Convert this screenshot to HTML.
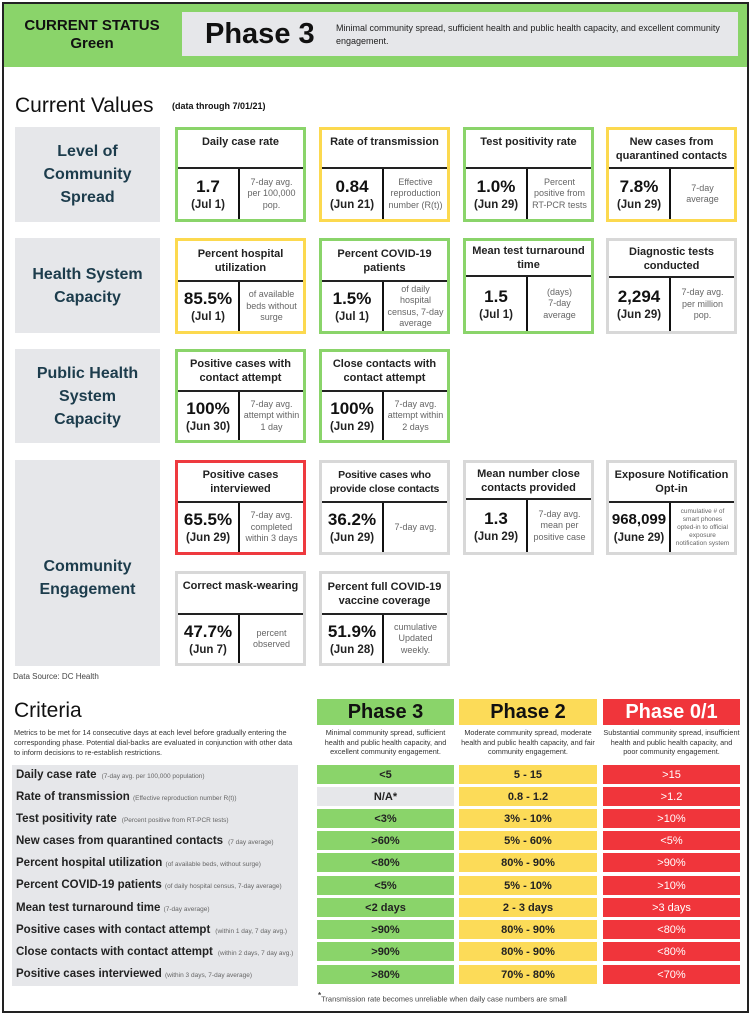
<!DOCTYPE html>
<html><head><meta charset="utf-8"><style>
*{margin:0;padding:0;box-sizing:border-box}
body{width:751px;height:1024px;background:#fff;font-family:"Liberation Sans",sans-serif;color:#111;position:relative;overflow:hidden}
.a{position:absolute}
.frame{left:2px;top:2px;width:747px;height:1011px;border:2px solid #222}
.hdr{left:4px;top:4px;width:743px;height:63px;background:#8ad46a}
.cat{background:#e6e7ea;color:#1c3c4c;font-weight:bold;font-size:16px;line-height:23px;display:flex;align-items:center;justify-content:center;text-align:center;left:15px;width:145px}
.card{width:131px;border:3px solid;background:#fff}
.card .t{display:flex;align-items:center;justify-content:center;text-align:center;font-size:11px;font-weight:bold;line-height:14px;border-bottom:2px solid;padding:0 2px;color:#222}
.card .b{display:flex}
.card .l{width:62px;border-right:2px solid;display:flex;flex-direction:column;align-items:center;justify-content:center;text-align:center}
.card .v{font-size:17px;font-weight:bold;line-height:21px}
.card .d{font-size:11.5px;font-weight:bold;line-height:16px;color:#222}
.card .r{flex:1;display:flex;align-items:center;justify-content:center;text-align:center;font-size:9px;color:#666;line-height:11.5px;padding:0 3px}
.G{border-color:#8ad46a}.Y{border-color:#fcd94f}.R{border-color:#ee3a3f}.N{border-color:#d8d8d8}
.G *{border-color:#8ad46a}.Y *{border-color:#fcd94f}.R *{border-color:#ee3a3f}.N *{border-color:#d8d8d8}
.cell{height:19px;display:flex;align-items:center;justify-content:center;font-size:11px;font-weight:bold}
.c1{left:317px;width:137px;background:#8ad46a;color:#222}
.c2{left:459px;width:138px;background:#fcdb58;color:#222}
.c3{left:603px;width:137px;background:#f0353b;color:#fff;font-weight:normal}
.lab{left:16px;font-size:11.5px;font-weight:bold;color:#222;height:20px;line-height:20px;white-space:nowrap}
.lab span{font-size:6.5px;font-weight:normal;color:#666}
.pd{font-size:7.3px;color:#333;text-align:center;line-height:9.5px;top:728px}
.ph{top:699px;height:26px;text-align:center;font-size:20px;font-weight:bold;line-height:26px}
</style></head><body>
<div class="a hdr"></div>
<div class="a frame"></div>
<div class="a" style="left:12px;top:17px;width:160px;text-align:center;font-weight:bold;font-size:15px;line-height:18px">CURRENT STATUS<br>Green</div>
<div class="a" style="left:182px;top:12px;width:556px;height:44px;background:#e6e7ea"></div>
<div class="a" style="left:205px;top:16px;font-size:29px;font-weight:bold;line-height:36px">Phase 3</div>
<div class="a" style="left:336px;top:22px;font-size:9px;line-height:13px;color:#222;width:400px">Minimal community spread, sufficient health and public health capacity, and excellent community engagement.</div>

<div class="a" style="left:15px;top:94px;font-size:21px;line-height:24px">Current Values</div>
<div class="a" style="left:172px;top:101px;font-size:9px;font-weight:bold">(data through 7/01/21)</div>

<div class="a cat" style="top:127px;height:95px">Level of<br>Community<br>Spread</div>
<div class="a cat" style="top:238px;height:95px">Health System<br>Capacity</div>
<div class="a cat" style="top:349px;height:94px">Public Health<br>System<br>Capacity</div>
<div class="a cat" style="top:460px;height:206px;padding-top:30px">Community<br>Engagement</div>

<div class="a card G" style="left:175px;top:127px;height:95px"><div class="t" style="height:39px;align-items:flex-start;padding-top:5px">Daily case rate</div><div class="b" style="height:50px"><div class="l"><div class="v">1.7</div><div class="d">(Jul 1)</div></div><div class="r">7-day avg. per 100,000 pop.</div></div></div>
<div class="a card Y" style="left:319px;top:127px;height:95px"><div class="t" style="height:39px;align-items:flex-start;padding-top:5px">Rate of transmission</div><div class="b" style="height:50px"><div class="l"><div class="v">0.84</div><div class="d">(Jun 21)</div></div><div class="r">Effective reproduction number (R(t))</div></div></div>
<div class="a card G" style="left:463px;top:127px;height:95px"><div class="t" style="height:39px;align-items:flex-start;padding-top:5px">Test positivity rate</div><div class="b" style="height:50px"><div class="l"><div class="v">1.0%</div><div class="d">(Jun 29)</div></div><div class="r">Percent positive from RT-PCR tests</div></div></div>
<div class="a card Y" style="left:606px;top:127px;height:95px"><div class="t" style="height:39px">New cases from quarantined contacts</div><div class="b" style="height:50px"><div class="l"><div class="v">7.8%</div><div class="d">(Jun 29)</div></div><div class="r">7-day average</div></div></div>

<div class="a card Y" style="left:175px;top:238px;height:96px"><div class="t" style="height:41px">Percent hospital utilization</div><div class="b" style="height:49px"><div class="l"><div class="v">85.5%</div><div class="d">(Jul 1)</div></div><div class="r">of available beds without surge</div></div></div>
<div class="a card G" style="left:319px;top:238px;height:96px"><div class="t" style="height:41px">Percent COVID-19 patients</div><div class="b" style="height:49px"><div class="l"><div class="v">1.5%</div><div class="d">(Jul 1)</div></div><div class="r">of daily hospital census, 7-day average</div></div></div>
<div class="a card G" style="left:463px;top:238px;height:96px"><div class="t" style="height:36px">Mean test turnaround time</div><div class="b" style="height:54px"><div class="l"><div class="v">1.5</div><div class="d">(Jul 1)</div></div><div class="r">(days)<br>7-day<br>average</div></div></div>
<div class="a card N" style="left:606px;top:238px;height:96px"><div class="t" style="height:37px">Diagnostic tests conducted</div><div class="b" style="height:53px"><div class="l"><div class="v">2,294</div><div class="d">(Jun 29)</div></div><div class="r">7-day avg. per million pop.</div></div></div>

<div class="a card G" style="left:175px;top:349px;height:94px"><div class="t" style="height:40px">Positive cases with contact attempt</div><div class="b" style="height:48px"><div class="l"><div class="v">100%</div><div class="d">(Jun 30)</div></div><div class="r">7-day avg. attempt within 1 day</div></div></div>
<div class="a card G" style="left:319px;top:349px;height:94px"><div class="t" style="height:40px">Close contacts with contact attempt</div><div class="b" style="height:48px"><div class="l"><div class="v">100%</div><div class="d">(Jun 29)</div></div><div class="r">7-day avg. attempt within 2 days</div></div></div>

<div class="a card R" style="left:175px;top:460px;height:95px"><div class="t" style="height:40px">Positive cases interviewed</div><div class="b" style="height:49px"><div class="l"><div class="v">65.5%</div><div class="d">(Jun 29)</div></div><div class="r">7-day avg. completed within 3 days</div></div></div>
<div class="a card N" style="left:319px;top:460px;height:95px"><div class="t" style="height:40px;font-size:10.5px;letter-spacing:-0.2px">Positive cases who provide close contacts</div><div class="b" style="height:49px"><div class="l"><div class="v">36.2%</div><div class="d">(Jun 29)</div></div><div class="r">7-day avg.</div></div></div>
<div class="a card N" style="left:463px;top:460px;height:95px"><div class="t" style="height:37px">Mean number close contacts provided</div><div class="b" style="height:52px"><div class="l"><div class="v">1.3</div><div class="d">(Jun 29)</div></div><div class="r">7-day avg. mean per positive case</div></div></div>
<div class="a card N" style="left:606px;top:460px;height:95px"><div class="t" style="height:40px">Exposure Notification Opt-in</div><div class="b" style="height:49px"><div class="l"><div class="v" style="font-size:15px">968,099</div><div class="d">(June 29)</div></div><div class="r" style="font-size:6.5px;line-height:8px">cumulative # of smart phones opted-in to official exposure notification system</div></div></div>
<div class="a card N" style="left:175px;top:571px;height:95px"><div class="t" style="height:41px;align-items:flex-start;padding-top:5px">Correct mask-wearing</div><div class="b" style="height:48px"><div class="l"><div class="v">47.7%</div><div class="d">(Jun 7)</div></div><div class="r">percent observed</div></div></div>
<div class="a card N" style="left:319px;top:571px;height:95px"><div class="t" style="height:41px">Percent full COVID-19 vaccine coverage</div><div class="b" style="height:48px"><div class="l"><div class="v">51.9%</div><div class="d">(Jun 28)</div></div><div class="r">cumulative Updated weekly.</div></div></div>

<div class="a" style="left:13px;top:672px;font-size:8px;color:#444">Data Source: DC Health</div>

<div class="a" style="left:14px;top:699px;font-size:21px;line-height:24px">Criteria</div>
<div class="a" style="left:14px;top:728px;width:286px;font-size:7.3px;line-height:10px;color:#333">Metrics to be met for 14 consecutive days at each level before gradually entering the corresponding phase. Potential dial-backs are evaluated in conjunction with other data to inform decisions to re-establish restrictions.</div>

<div class="a ph" style="left:317px;width:137px;background:#8ad46a">Phase 3</div>
<div class="a ph" style="left:459px;width:138px;background:#fcdb58">Phase 2</div>
<div class="a ph" style="left:603px;width:137px;background:#f0353b;color:#fff">Phase 0/1</div>
<div class="a pd" style="left:317px;width:137px">Minimal community spread, sufficient health and public health capacity, and excellent community engagement.</div>
<div class="a pd" style="left:459px;width:138px">Moderate community spread, moderate health and public health capacity, and fair community engagement.</div>
<div class="a pd" style="left:603px;width:137px">Substantial community spread, insufficient health and public health capacity, and poor community engagement.</div>

<div class="a" style="left:12px;top:765px;width:286px;height:221px;background:#e6e7ea"></div>
<div class="a lab" style="top:765px">Daily case rate <span>&nbsp;(7-day avg. per 100,000 population)</span></div>
<div class="a lab" style="top:787px">Rate of transmission <span>(Effective reproduction number R(t))</span></div>
<div class="a lab" style="top:809px">Test positivity rate <span>&nbsp;(Percent positive from RT-PCR tests)</span></div>
<div class="a lab" style="top:831px">New cases from quarantined contacts <span>&nbsp;(7 day average)</span></div>
<div class="a lab" style="top:853px">Percent hospital utilization <span>(of available beds, without surge)</span></div>
<div class="a lab" style="top:875px">Percent COVID-19 patients <span>(of daily hospital census, 7-day average)</span></div>
<div class="a lab" style="top:898px">Mean test turnaround time <span>(7-day average)</span></div>
<div class="a lab" style="top:920px">Positive cases with contact attempt <span>&nbsp;(within 1 day, 7 day avg.)</span></div>
<div class="a lab" style="top:942px">Close contacts with contact attempt <span>&nbsp;(within 2 days, 7 day avg.)</span></div>
<div class="a lab" style="top:964px">Positive cases interviewed <span>(within 3 days, 7-day average)</span></div>

<div class="a cell c1" style="top:765px">&lt;5</div><div class="a cell c2" style="top:765px">5 - 15</div><div class="a cell c3" style="top:765px">&gt;15</div>
<div class="a cell c1" style="top:787px;background:#e6e7ea">N/A*</div><div class="a cell c2" style="top:787px">0.8 - 1.2</div><div class="a cell c3" style="top:787px">&gt;1.2</div>
<div class="a cell c1" style="top:809px">&lt;3%</div><div class="a cell c2" style="top:809px">3% - 10%</div><div class="a cell c3" style="top:809px">&gt;10%</div>
<div class="a cell c1" style="top:831px">&gt;60%</div><div class="a cell c2" style="top:831px">5% - 60%</div><div class="a cell c3" style="top:831px">&lt;5%</div>
<div class="a cell c1" style="top:853px">&lt;80%</div><div class="a cell c2" style="top:853px">80% - 90%</div><div class="a cell c3" style="top:853px">&gt;90%</div>
<div class="a cell c1" style="top:876px">&lt;5%</div><div class="a cell c2" style="top:876px">5% - 10%</div><div class="a cell c3" style="top:876px">&gt;10%</div>
<div class="a cell c1" style="top:898px">&lt;2 days</div><div class="a cell c2" style="top:898px">2 - 3 days</div><div class="a cell c3" style="top:898px">&gt;3 days</div>
<div class="a cell c1" style="top:920px">&gt;90%</div><div class="a cell c2" style="top:920px">80% - 90%</div><div class="a cell c3" style="top:920px">&lt;80%</div>
<div class="a cell c1" style="top:942px">&gt;90%</div><div class="a cell c2" style="top:942px">80% - 90%</div><div class="a cell c3" style="top:942px">&lt;80%</div>
<div class="a cell c1" style="top:965px">&gt;80%</div><div class="a cell c2" style="top:965px">70% - 80%</div><div class="a cell c3" style="top:965px">&lt;70%</div>

<div class="a" style="left:318px;top:991px;font-size:7.5px;color:#444"><sup style="font-size:8px;font-weight:bold">*</sup>Transmission rate becomes unreliable when daily case numbers are small</div>
</body></html>
